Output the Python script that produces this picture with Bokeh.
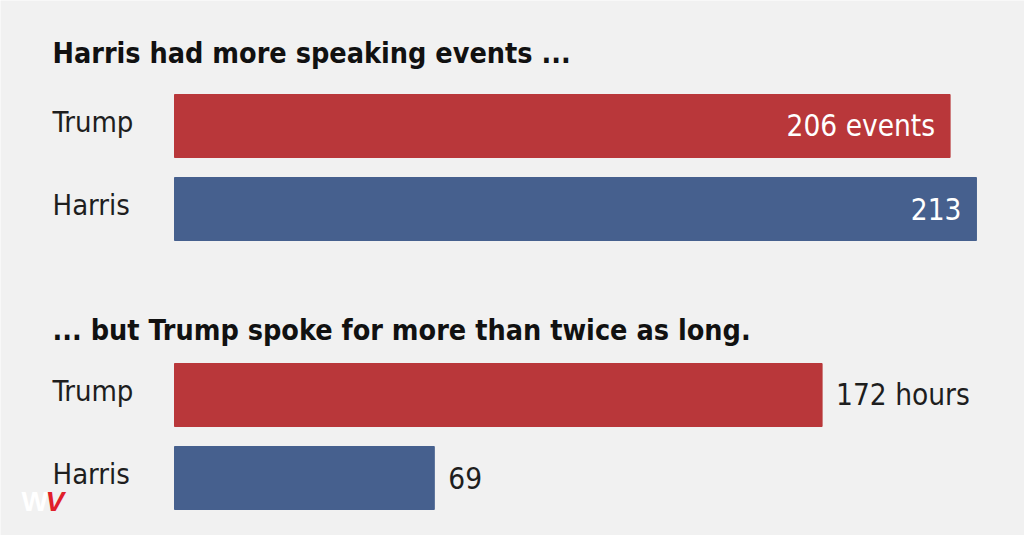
from bokeh.plotting import figure
from bokeh.models import Range1d, ColumnDataSource, Label
from bokeh.core.properties import value
from bokeh.embed import file_html
from bokeh.resources import INLINE

# ---- data ----
candidates = ["Trump", "Harris"]
events = [206, 213]
hours = [172, 69]
events_labels = ["206 events", "213"]
hours_labels = ["172 hours", "69"]
title_events = "Harris had more speaking events ..."
title_hours = "... but Trump spoke for more than twice as long."

# ---- style ----
BG = "#f1f1f1"
COLORS = ["#b9373a", "#46608e"]
TXT = "#1e1e1e"
FONT = "'DejaVu Sans Condensed', 'Liberation Sans Narrow', Roboto, sans-serif"

W, H = 1024, 535
x0_px = 174          # pixel where value 0 sits
px_per_unit = 3.765

p = figure(width=W, height=H, output_backend="svg", toolbar_location=None,
           x_range=Range1d(-x0_px / px_per_unit, (W - x0_px) / px_per_unit),
           y_range=Range1d(H, 0), min_border=0,
           background_fill_color=BG, border_fill_color=BG)
p.axis.visible = False
p.grid.visible = False
p.outline_line_color = None

def px(n):
    return n / px_per_unit

panels = [
    dict(title=title_events, title_y=53, ys=[125.5, 208.5], vals=events,
         labels=events_labels, inside=True),
    dict(title=title_hours, title_y=330, ys=[394.5, 477.5], vals=hours,
         labels=hours_labels, inside=False),
]

label_x = -x0_px / px_per_unit + px(52)

for pan in panels:
    src = ColumnDataSource(dict(y=pan["ys"], right=pan["vals"], color=COLORS,
                                name=candidates, lab=pan["labels"]))
    p.hbar(y="y", left=0, right="right", height=63, color="color", source=src)
    p.text(x=label_x, y="y", text="name", source=src, y_offset=-4,
           text_font=value(FONT), text_font_size="29px", text_color=TXT,
           text_baseline="middle", text_align="left")
    if pan["inside"]:
        xs = [v - px(15) for v in pan["vals"]]
        tsrc = ColumnDataSource(dict(x=xs, y=pan["ys"], t=pan["labels"]))
        p.text(x="x", y="y", text="t", source=tsrc, text_font=value(FONT),
               text_font_size="29.5px", text_color="white",
               text_baseline="middle", text_align="right")
    else:
        xs = [v + px(14) for v in pan["vals"]]
        tsrc = ColumnDataSource(dict(x=xs, y=pan["ys"], t=pan["labels"]))
        p.text(x="x", y="y", text="t", source=tsrc, text_font=value(FONT),
               text_font_size="29.5px", text_color=TXT,
               text_baseline="middle", text_align="left")
    p.add_layout(Label(x=label_x, y=pan["title_y"], text=pan["title"],
                       text_font=FONT, text_font_size="28.5px",
                       text_font_style="bold", text_color="#111111",
                       text_baseline="middle", text_align="left"))

# logo
p.add_layout(Label(x=-x0_px / px_per_unit + px(21), y=501, text="W",
                   text_font="Liberation Sans", text_font_size="28px",
                   text_font_style="bold", text_color="#ffffff",
                   text_baseline="middle"))
p.add_layout(Label(x=-x0_px / px_per_unit + px(45), y=501, text="V",
                   text_font="Liberation Sans", text_font_size="28px",
                   text_font_style="bold italic", text_color="#e0202a",
                   text_baseline="middle"))

open("out.html", "w").write(file_html(p, INLINE))
